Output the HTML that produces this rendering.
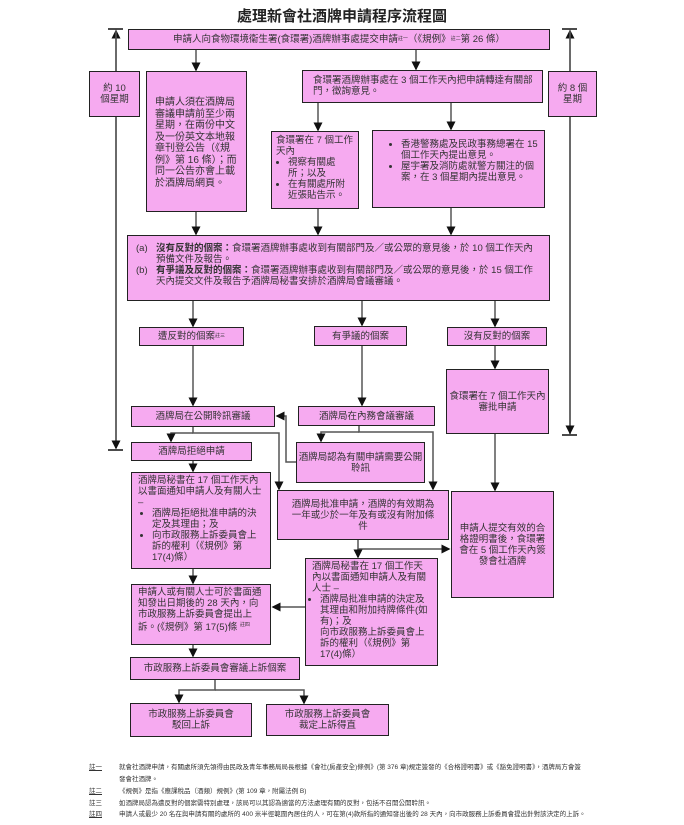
<!DOCTYPE html>
<html><head><meta charset="utf-8"><style>
body{margin:0;background:#fff;}
#c{position:relative;width:684px;height:825px;overflow:hidden;font-family:"Liberation Sans","Noto Sans CJK TC",sans-serif;color:#333;}
.b{position:absolute;background:#f6aaf0;border:1.5px solid #222;box-sizing:border-box;font-size:9.5px;line-height:11px;}
.cc{display:flex;align-items:center;justify-content:center;text-align:center;}
ul{margin:0;padding-left:12px;}
li{margin:0;}
.fn{position:absolute;font-size:6.5px;color:#333;left:89px;}
.fn span{display:inline-block;width:30px;}
</style></head><body><div id="c">
<div style="position:absolute;left:0;width:684px;top:5px;text-align:center;font-size:15px;font-weight:bold;color:#222;">處理新會社酒牌申請程序流程圖</div>
<svg width="684" height="825" style="position:absolute;left:0;top:0">
<defs><marker id="a" markerWidth="6" markerHeight="6" refX="5" refY="3" orient="auto"><path d="M0,0L6,3L0,6z" fill="#111"/></marker></defs>
<g stroke="#555" stroke-width="1.5" fill="none">
<line x1="116" y1="448" x2="116" y2="31" marker-end="url(#a)"/>
<line x1="108" y1="29" x2="123" y2="29" stroke="#111"/>
<line x1="108" y1="450" x2="123" y2="450" stroke="#111"/>
<line x1="116" y1="31" x2="116" y2="448" marker-end="url(#a)"/>
<line x1="570" y1="434" x2="570" y2="31" marker-end="url(#a)"/>
<line x1="570" y1="31" x2="570" y2="433" marker-end="url(#a)"/>
<line x1="562" y1="29" x2="577" y2="29" stroke="#111"/>
<line x1="562" y1="435" x2="577" y2="435" stroke="#111"/>
<line x1="196" y1="50" x2="196" y2="70" marker-end="url(#a)"/>
<line x1="416" y1="50" x2="416" y2="69" marker-end="url(#a)"/>
<line x1="318" y1="103" x2="318" y2="130" marker-end="url(#a)"/>
<line x1="451" y1="103" x2="451" y2="129" marker-end="url(#a)"/>
<line x1="196" y1="212" x2="196" y2="234" marker-end="url(#a)"/>
<line x1="318" y1="209" x2="318" y2="234" marker-end="url(#a)"/>
<line x1="451" y1="208" x2="451" y2="234" marker-end="url(#a)"/>
<line x1="193" y1="301" x2="193" y2="326" marker-end="url(#a)"/>
<line x1="362" y1="301" x2="362" y2="325" marker-end="url(#a)"/>
<line x1="495" y1="301" x2="495" y2="326" marker-end="url(#a)"/>
<line x1="193" y1="346" x2="193" y2="405" marker-end="url(#a)"/>
<line x1="362" y1="346" x2="362" y2="405" marker-end="url(#a)"/>
<line x1="495" y1="346" x2="495" y2="368" marker-end="url(#a)"/>
<polyline points="193,427 193,433 279,433 279,489" marker-end="url(#a)"/>
<polyline points="193,433 171,433 171,441" marker-end="url(#a)"/>
<polyline points="359,426 359,432 433,432 433,489" marker-end="url(#a)"/>
<polyline points="359,432 321,432 321,441" marker-end="url(#a)"/>
<polyline points="296,462 286,462 286,416 277,416" marker-end="url(#a)"/>
<line x1="193" y1="461" x2="193" y2="471" marker-end="url(#a)"/>
<line x1="193" y1="569" x2="193" y2="583" marker-end="url(#a)"/>
<line x1="193" y1="645" x2="193" y2="656" marker-end="url(#a)"/>
<polyline points="215,680 215,690 179,690 179,702" marker-end="url(#a)"/>
<polyline points="215,690 304,690 304,703" marker-end="url(#a)"/>
<polyline points="358,540 358,549 449,549" marker-end="url(#a)"/>
<line x1="358" y1="549" x2="358" y2="557" marker-end="url(#a)"/>
<line x1="305" y1="607" x2="273" y2="607" marker-end="url(#a)"/>
<line x1="495" y1="434" x2="495" y2="490" marker-end="url(#a)"/>
</g></svg>
<div class="b cc" style="left:128px;top:29px;width:422px;height:21px;">申請人向食物環境衞生署(食環署)酒牌辦事處提交申請<sup style="font-size:5px">註一</sup>（《規例》<sup style="font-size:5px">註二</sup>第 26 條）</div>
<div class="b cc" style="left:89px;top:71px;width:51px;height:46px;">約 10<br>個星期</div>
<div class="b" style="left:146px;top:71px;width:101px;height:141px;padding:25px 8px 0 8px;font-size:10px;line-height:11.5px;">申請人須在酒牌局審議申請前至少兩星期，在兩份中文及一份英文本地報章刊登公告（《規例》第 16 條）；而同一公告亦會上載於酒牌局網頁。</div>
<div class="b" style="left:302px;top:70px;width:241px;height:33px;padding:4px 0 0 10px;">食環署酒牌辦事處在 3 個工作天內把申請轉達有關部門，徵詢意見。</div>
<div class="b cc" style="left:548px;top:71px;width:49px;height:46px;">約 8 個<br>星期</div>
<div class="b" style="left:271px;top:131px;width:88px;height:78px;padding:3px 4px;">食環署在 7 個工作天內<ul><li>視察有關處所；以及</li><li>在有關處所附近張貼告示。</li></ul></div>
<div class="b" style="left:372px;top:130px;width:173px;height:78px;padding:8px 6px 0 8px;"><ul style="padding-left:20px"><li>香港警務處及民政事務總署在 15 個工作天內提出意見。</li><li>屋宇署及消防處就警方關注的個案，在 3 個星期內提出意見。</li></ul></div>
<div class="b" style="left:127px;top:235px;width:423px;height:66px;padding:7px 8px 0 8px;">
<div style="display:flex"><span style="width:20px">(a)</span><span style="flex:1"><b>沒有反對的個案：</b>食環署酒牌辦事處收到有關部門及／或公眾的意見後，於 10 個工作天內預備文件及報告。</span></div>
<div style="display:flex"><span style="width:20px">(b)</span><span style="flex:1"><b>有爭議及反對的個案：</b>食環署酒牌辦事處收到有關部門及／或公眾的意見後，於 15 個工作天內提交文件及報告予酒牌局秘書安排於酒牌局會議審議。</span></div></div>
<div class="b cc" style="left:139px;top:327px;width:105px;height:19px;">遭反對的個案<sup style="font-size:5px">註三</sup></div>
<div class="b cc" style="left:314px;top:326px;width:93px;height:20px;">有爭議的個案</div>
<div class="b cc" style="left:447px;top:327px;width:100px;height:19px;">沒有反對的個案</div>
<div class="b cc" style="left:446px;top:369px;width:103px;height:65px;">食環署在 7 個工作天內審批申請</div>
<div class="b cc" style="left:131px;top:406px;width:144px;height:21px;">酒牌局在公開聆訊審議</div>
<div class="b cc" style="left:298px;top:406px;width:137px;height:20px;">酒牌局在內務會議審議</div>
<div class="b cc" style="left:131px;top:442px;width:121px;height:19px;">酒牌局拒絕申請</div>
<div class="b cc" style="left:296px;top:442px;width:129px;height:41px;">酒牌局認為有關申請需要公開聆訊</div>
<div class="b" style="left:131px;top:472px;width:140px;height:97px;padding:2px 6px;">酒牌局秘書在 17 個工作天內以書面通知申請人及有關人士 –<ul style="padding-left:14px"><li>酒牌局拒絕批准申請的決定及其理由；及</li><li>向市政服務上訴委員會上訴的權利（《規例》第 17(4)條）</li></ul></div>
<div class="b cc" style="left:277px;top:490px;width:172px;height:50px;padding:0 10px;">酒牌局批准申請，酒牌的有效期為一年或少於一年及有或沒有附加條件</div>
<div class="b cc" style="left:451px;top:491px;width:103px;height:107px;padding:0 6px;">申請人提交有效的合格證明書後，食環署會在 5 個工作天內簽發會社酒牌</div>
<div class="b" style="left:305px;top:558px;width:133px;height:108px;padding:2px 6px;">酒牌局秘書在 17 個工作天內以書面通知申請人及有關人士 –<ul style="padding-left:8px"><li>酒牌局批准申請的決定及其理由和附加持牌條件(如有)；及<br>向市政服務上訴委員會上訴的權利（《規例》第 17(4)條）</li></ul></div>
<div class="b" style="left:131px;top:584px;width:140px;height:61px;padding:2px 6px;">申請人或有關人士可於書面通知發出日期後的 28 天內，向市政服務上訴委員會提出上訴。(《規例》第 17(5)條 <sup style="font-size:5px">註四</sup></div>
<div class="b cc" style="left:130px;top:657px;width:170px;height:23px;">市政服務上訴委員會審議上訴個案</div>
<div class="b cc" style="left:130px;top:703px;width:122px;height:34px;">市政服務上訴委員會<br>駁回上訴</div>
<div class="b cc" style="left:266px;top:704px;width:123px;height:32px;">市政服務上訴委員會<br>裁定上訴得直</div>
<div class="fn" style="top:761px;"><span style="text-decoration:underline">註一</span>就會社酒牌申請，有關處所須先領得由民政及青年事務局局長根據《會社(房產安全)條例》(第 376 章)規定簽發的《合格證明書》或《豁免證明書》，酒牌局方會簽</div>
<div class="fn" style="top:773px;"><span></span>發會社酒牌。</div>
<div class="fn" style="top:785px;"><span style="text-decoration:underline">註二</span>《規例》是指《應課稅品（酒類）規例》(第 109 章，附屬法例 B)</div>
<div class="fn" style="top:797px;"><span>註三</span>如酒牌局認為遭反對的個案需特別處理，該局可以其認為適當的方法處理有關的反對，包括不召開公開聆訊。</div>
<div class="fn" style="top:808px;"><span style="text-decoration:underline">註四</span>申請人或最少 20 名在與申請有關的處所的 400 米半徑範圍內居住的人，可在第(4)款所指的通知發出後的 28 天內，向市政服務上訴委員會提出針對該決定的上訴。</div>
</div></body></html>
